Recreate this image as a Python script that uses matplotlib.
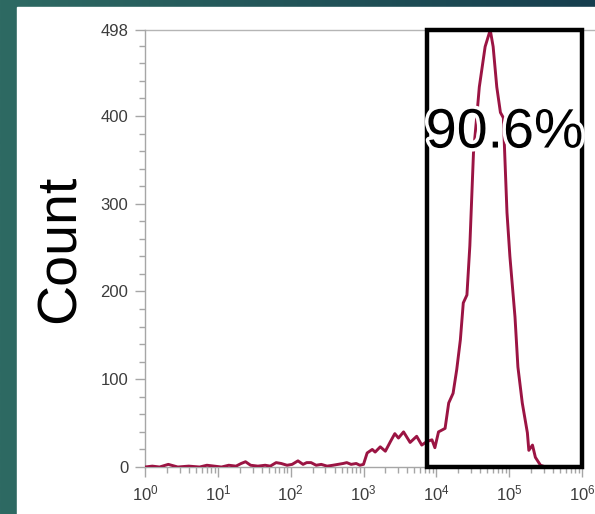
import matplotlib
matplotlib.use("Agg")
import matplotlib.pyplot as plt
import matplotlib.patheffects as pe
import numpy as np
from matplotlib.patches import Rectangle
from matplotlib.ticker import FixedLocator, LogLocator, NullFormatter

# histogram (x as log10 of intensity)
log_x = [0.0, 0.1, 0.2, 0.32, 0.45, 0.6, 0.75, 0.85, 0.95, 1.05, 1.15, 1.25,
         1.32, 1.38, 1.45, 1.55, 1.65, 1.72, 1.8, 1.87, 1.95, 2.02, 2.1, 2.17,
         2.22, 2.28, 2.35, 2.42, 2.5, 2.58, 2.65, 2.72, 2.77, 2.83, 2.9, 2.95,
         3.0, 3.05, 3.12, 3.16, 3.23, 3.3, 3.37, 3.43, 3.48, 3.55, 3.64, 3.73,
         3.8, 3.87, 3.94, 3.98, 4.03, 4.12, 4.17, 4.23, 4.28, 4.33, 4.37, 4.42,
         4.46, 4.51, 4.56, 4.59, 4.67, 4.74, 4.78, 4.83, 4.88, 4.92, 4.97, 5.01,
         5.08, 5.12, 5.18, 5.25, 5.27, 5.32, 5.36, 5.43, 5.5]
counts = [0, 1, 0, 3, 0, 1, 0, 2, 1, 0, 2, 1,
          4, 6, 2, 1, 2, 1, 5, 4, 2, 3, 7, 3,
          5, 5, 2, 3, 1, 2, 3, 4, 5, 3, 4, 2,
          3, 16, 20, 17, 23, 18, 29, 38, 33, 40, 28, 35,
          25, 29, 31, 22, 40, 44, 73, 84, 111, 145, 187, 196,
          252, 358, 404, 433, 479, 498, 479, 433, 404, 398, 290, 240,
          171, 114, 73, 39, 19, 25, 11, 2, 0]

y_ticks = [0, 100, 200, 300, 400, 498]
x_decades = [0, 1, 2, 3, 4, 5, 6]
gate_lo, gate_hi = 3.874, 6.0
gate_label = "90.6%"

fig = plt.figure(figsize=(5.95, 5.14), dpi=100)

# teal slide background with a white panel on it
bg = fig.add_axes([0, 0, 1, 1], zorder=-10)
grad = np.linspace(0, 1, 256)
c0 = np.array([46, 106, 99]) / 255
c1 = np.array([22, 62, 78]) / 255
img = c0[None, :] * (1 - grad[:, None]) + c1[None, :] * grad[:, None]
bg.imshow(img[None, :, :], aspect="auto", extent=[0, 1, 0, 1])
bg.add_patch(Rectangle((17 / 595, 0), 1, 1 - 7 / 514, color="white"))
bg.set_xlim(0, 1)
bg.set_ylim(0, 1)
bg.axis("off")

ax = fig.add_axes([145 / 595, 47 / 514, 437 / 595, 437 / 514])
ax.set_facecolor("none")
ax.plot(10 ** np.array(log_x), counts, color="#9b1443", lw=2.1, zorder=3)

ax.set_xscale("log")
ax.set_xlim(1, 1e6)
ax.set_ylim(0, 498)

ax.spines["right"].set_visible(False)
ax.spines["top"].set_visible(False)
for s in ["left", "bottom"]:
    ax.spines[s].set_color("#a6a6a6")
    ax.spines[s].set_linewidth(1.0)
ax.plot([0, 1.03], [498, 498], transform=ax.get_yaxis_transform(),
        color="#b5b5b5", lw=1.0, clip_on=False)

ax.set_yticks(y_ticks)
ax.yaxis.set_minor_locator(FixedLocator([v for v in range(20, 498, 20) if v % 100]))
ax.set_xticks([10.0 ** d for d in x_decades])
ax.set_xticklabels([r"$\mathregular{10^{%d}}$" % d for d in x_decades])
ax.xaxis.set_minor_locator(LogLocator(base=10, subs=np.arange(2, 10), numticks=20))
ax.xaxis.set_minor_formatter(NullFormatter())
ax.tick_params(which="major", length=7, width=1, color="#a6a6a6",
               labelsize=12, labelcolor="#3c3c3c", pad=5)
ax.tick_params(which="minor", length=4, width=1, color="#a6a6a6")
for lab in ax.get_xticklabels() + ax.get_yticklabels():
    lab.set_family("Liberation Sans")

ax.set_ylabel("Count", fontsize=40, family="Liberation Sans", labelpad=10)

# gate
ax.add_patch(Rectangle((10 ** gate_lo, 0), 10 ** gate_hi - 10 ** gate_lo, 498,
                       fill=False, edgecolor="black", lw=3.2, zorder=4,
                       clip_on=False))
ax.text(10 ** ((gate_lo + gate_hi) / 2), 380, gate_label, fontsize=40,
        family="Liberation Sans", ha="center", va="center", zorder=5,
        path_effects=[pe.withStroke(linewidth=5, foreground="white")])

fig.savefig("out.png", dpi=100)
